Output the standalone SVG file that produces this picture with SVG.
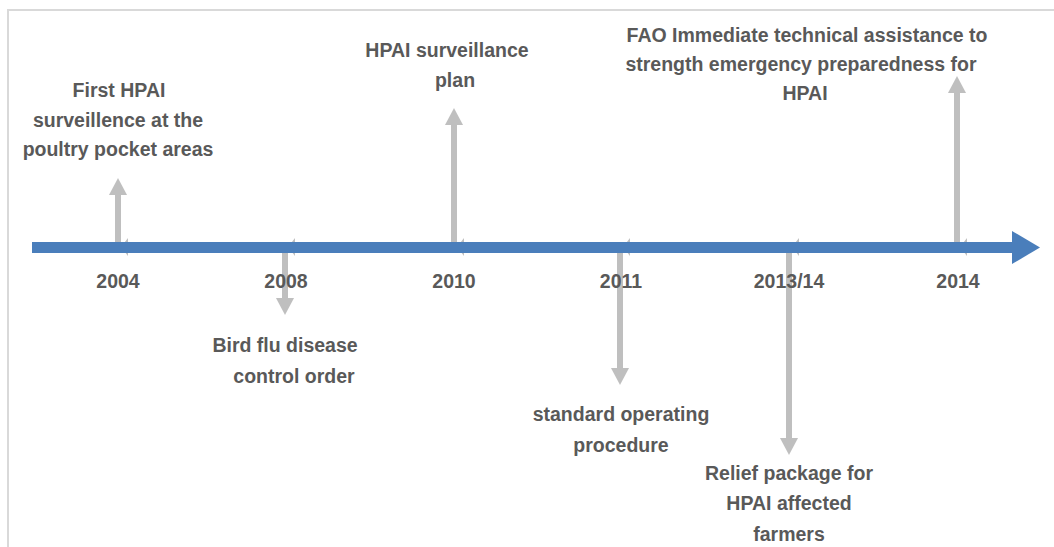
<svg xmlns="http://www.w3.org/2000/svg" width="1054" height="547" viewBox="0 0 1054 547">
  <style>
    .lbl { font-family: "Liberation Sans", Arial, sans-serif; font-weight: bold; font-size: 19.5px; fill: #595959; text-anchor: middle; }
    .stem { stroke: #bfbfbf; stroke-width: 6; fill: none; }
    .nub { fill: #bfbfbf; }
    .frame { fill: none; stroke: #d9d9d9; stroke-width: 2; }
  </style>
  <defs>
    <marker id="head" markerUnits="userSpaceOnUse" markerWidth="18" markerHeight="18" refX="0" refY="9" orient="auto" viewBox="0 0 18 18">
      <path d="M0,0 L17,9 L0,18 z" fill="#bfbfbf"/>
    </marker>
  </defs>

  <rect width="1054" height="547" fill="#ffffff"/>
  <!-- chart frame (runs off the right and bottom edges) -->
  <path class="frame" d="M8,560 L8,10 L1070,10"/>

  <!-- connectors: grey event pointers and the blue time axis -->
  <g id="connectors">
    <polygon class="nub" points="121,247 128,238 128,256"/>
    <polygon class="nub" points="288,247 295,238 295,256"/>
    <polygon class="nub" points="457,247 464,238 464,256"/>
    <polygon class="nub" points="623,247 630,238 630,256"/>
    <polygon class="nub" points="792,247 799,238 799,256"/>
    <polygon class="nub" points="960,247 967,238 967,256"/>

    <line class="stem" x1="118" y1="247" x2="118" y2="195" marker-end="url(#head)"/>
    <line class="stem" x1="285" y1="247" x2="285" y2="298" marker-end="url(#head)"/>
    <line class="stem" x1="454" y1="247" x2="454" y2="125" marker-end="url(#head)"/>
    <line class="stem" x1="620" y1="247" x2="620" y2="368" marker-end="url(#head)"/>
    <line class="stem" x1="789" y1="247" x2="789" y2="438" marker-end="url(#head)"/>
    <line class="stem" x1="957" y1="247" x2="957" y2="93" marker-end="url(#head)"/>

    <g id="axis">
      <line x1="32" y1="247.5" x2="1013" y2="247.5" stroke="#4a7ebb" stroke-width="11"/>
      <polygon points="1012,231 1040,247.5 1012,264" fill="#4a7ebb"/>
    </g>
  </g>

  <!-- year ticks -->
  <g id="y2004"><text class="lbl" x="118" y="288">2004</text></g>
  <g id="y2008"><text class="lbl" x="286" y="288">2008</text></g>
  <g id="y2010"><text class="lbl" x="454" y="288">2010</text></g>
  <g id="y2011"><text class="lbl" x="621" y="288">2011</text></g>
  <g id="y2013"><text class="lbl" x="789" y="288">2013/14</text></g>
  <g id="y2014"><text class="lbl" x="958" y="288">2014</text></g>

  <!-- events -->
  <g id="ev2004">
    <text class="lbl" x="119" y="97">First HPAI</text>
    <text class="lbl" x="118" y="127">surveillence at the</text>
    <text class="lbl" x="118" y="156">poultry pocket areas</text>
  </g>
  <g id="ev2008">
    <text class="lbl" x="285" y="352">Bird flu disease</text>
    <text class="lbl" x="294" y="383">control order</text>
  </g>
  <g id="ev2010">
    <text class="lbl" x="447" y="57">HPAI surveillance</text>
    <text class="lbl" x="455" y="87">plan</text>
  </g>
  <g id="ev2011">
    <text class="lbl" x="621" y="421">standard operating</text>
    <text class="lbl" x="621" y="452">procedure</text>
  </g>
  <g id="ev2013">
    <text class="lbl" x="789" y="480">Relief package for</text>
    <text class="lbl" x="789" y="510">HPAI affected</text>
    <text class="lbl" x="789" y="541">farmers</text>
  </g>
  <g id="ev2014">
    <text class="lbl" x="807" y="42">FAO Immediate technical assistance to</text>
    <text class="lbl" x="801" y="71">strength emergency preparedness for</text>
    <text class="lbl" x="805" y="100">HPAI</text>
  </g>
</svg>
